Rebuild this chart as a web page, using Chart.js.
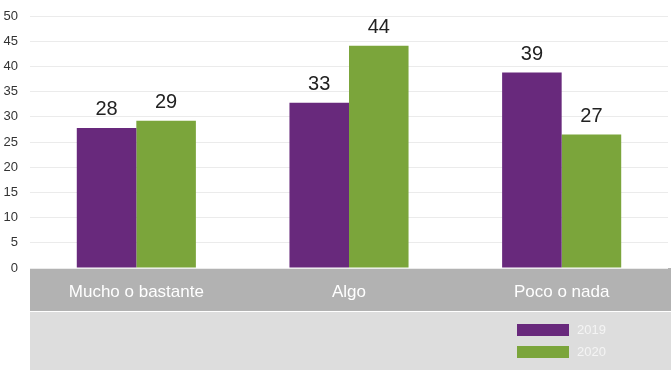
<!DOCTYPE html>
<html>
<head>
<meta charset="utf-8">
<script src="https://cdn.jsdelivr.net/npm/chart.js@4"></script>
<style>
  html, body { margin: 0; padding: 0; background: #fff; }
  #wrap { width: 671px; height: 370px; }
</style>
</head>
<body>
<div id="wrap"><canvas id="chart"></canvas></div>
<script>
const categories = ['Mucho o bastante', 'Algo', 'Poco o nada'];
const years = ['2019', '2020'];
const values2019 = [27.8, 32.8, 38.8];
const values2020 = [29.2, 44.1, 26.5];
const yearColors = ['#68297c', '#7ba53b'];

// gray bands under the plot and the legend box
const bandsPlugin = {
    id: 'bands',
    beforeDraw(chart) {
        const ctx = chart.ctx;
        const area = chart.chartArea;
        ctx.save();
        ctx.fillStyle = '#b2b2b2';
        ctx.fillRect(area.left, area.bottom, chart.width - area.left, 43);
        ctx.fillStyle = '#dddddd';
        ctx.fillRect(area.left, area.bottom + 44, chart.width - area.left, chart.height - area.bottom - 44);
        ctx.restore();
    }
};

const valueLabels = {
    id: 'valueLabels',
    afterDatasetsDraw(chart) {
        const ctx = chart.ctx;
        ctx.save();
        ctx.font = '20px "Liberation Sans", Arial, sans-serif';
        ctx.fillStyle = '#222';
        ctx.textAlign = 'center';
        ctx.textBaseline = 'bottom';
        chart.data.datasets.forEach((ds, i) => {
            chart.getDatasetMeta(i).data.forEach((bar, j) => {
                ctx.fillText(Math.round(ds.data[j]), bar.x, bar.y - 8);
            });
        });
        ctx.restore();
    }
};

const boxLegend = {
    id: 'boxLegend',
    afterDraw(chart) {
        const ctx = chart.ctx;
        ctx.save();
        ctx.font = '13px "Liberation Sans", Arial, sans-serif';
        ctx.textBaseline = 'middle';
        chart.data.datasets.forEach((ds, i) => {
            let y = 324 + i * 22;
            ctx.fillStyle = ds.backgroundColor;
            ctx.fillRect(517, y, 52, 12);
            ctx.fillStyle = '#f4f4f4';
            ctx.fillText(ds.label, 577, y + 6);
        });
        ctx.restore();
    }
};

Chart.defaults.font.family = '"Liberation Sans", Arial, sans-serif';

new Chart(document.getElementById('chart'), {
    type: 'bar',
    data: {
        labels: categories,
        datasets: [
            { label: years[0], data: values2019, backgroundColor: yearColors[0] },
            { label: years[1], data: values2020, backgroundColor: yearColors[1] }
        ]
    },
    options: {
        responsive: true,
        maintainAspectRatio: false,
        animation: false,
        layout: { padding: { top: 16, right: 3, left: 0, bottom: 0 } },
        datasets: { bar: { barPercentage: 1, categoryPercentage: 0.56 } },
        plugins: {
            legend: { display: false },
            tooltip: { enabled: false }
        },
        scales: {
            x: {
                grid: { display: false, drawTicks: false },
                border: { display: false },
                ticks: { color: '#ffffff', font: { size: 17 }, padding: 14 },
                afterFit: s => { s.height = 102; }
            },
            y: {
                min: 0,
                max: 50,
                ticks: { stepSize: 5, color: '#333', font: { size: 13 }, padding: 12 },
                grid: { color: '#ebebeb', drawTicks: false },
                border: { display: false },
                afterFit: s => { s.width = 30; s.paddingTop = 0; s.paddingBottom = 0; }
            }
        }
    },
    plugins: [bandsPlugin, valueLabels, boxLegend]
});
</script>
</body>
</html>
